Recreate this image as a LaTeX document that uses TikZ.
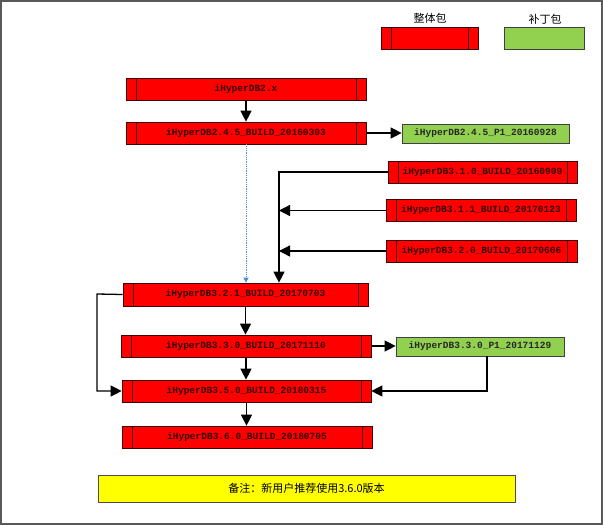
\documentclass[tikz,border=0pt]{standalone}
\usepackage{fontspec}
\setmainfont{Liberation Mono}
\newfontfamily\cjk{Noto Sans CJK SC}
\usetikzlibrary{arrows.meta,calc}
\definecolor{pkgred}{HTML}{FF0000}
\definecolor{pkggreen}{HTML}{92D050}
\definecolor{notey}{HTML}{FFFF00}
\definecolor{dotblue}{HTML}{4A8FD0}
\tikzset{
  x=1pt,y=-1pt,
  proc/.style={draw=black!75!red, line width=0.7pt, fill=pkgred, minimum height=22pt, inner sep=0pt,
    font=\bfseries\fontsize{9.5}{10}\selectfont, text=black!80!red,
    path picture={
      \draw[black!75!red, line width=0.7pt]
        ([xshift=10pt]path picture bounding box.north west) -- ([xshift=10pt]path picture bounding box.south west)
        ([xshift=-10pt]path picture bounding box.north east) -- ([xshift=-10pt]path picture bounding box.south east);
    }},
  patch/.style={draw=black!75, line width=0.7pt, fill=pkggreen, minimum height=19pt, inner sep=0pt,
    font=\bfseries\fontsize{9.5}{10}\selectfont, text=black!85},
  arr/.style={draw=black, line width=1.3pt, -{Triangle[length=11pt,width=11pt]}},
  lbl/.style={font=\cjk\fontsize{11}{12}\selectfont, inner sep=0pt}
}
\begin{document}
\begin{tikzpicture}
\useasboundingbox (0,0) rectangle (603,525);
\draw[black!65, line width=1.5pt] (1,1) rectangle (602,524);

% legend
\node[proc, minimum width=97pt] (legr) at (429.5,38) {};
\node[patch, minimum width=80pt, minimum height=22pt] (legg) at (544.5,38) {};
\node[lbl] (legrt) at (430,18) {整体包};
\node[lbl] (leggt) at (545,19) {补丁包};

% boxes
\node[proc, minimum width=240pt] (b2x) at (246,89) {iHyperDB2.x};
\node[proc, minimum width=240pt] (b245) at (246,133) {iHyperDB2.4.5\_BUILD\_20160303};
\node[patch, minimum width=167pt] (p245) at (485.5,133.5) {iHyperDB2.4.5\_P1\_20160928};
\node[proc, minimum width=189pt] (b310) at (482.5,172) {iHyperDB3.1.0\_BUILD\_20160909};
\node[proc, minimum width=190pt] (b311) at (481,210.5) {iHyperDB3.1.1\_BUILD\_20170123};
\node[proc, minimum width=191pt] (b320) at (481.5,251) {iHyperDB3.2.0\_BUILD\_20170606};
\node[proc, minimum width=245pt, minimum height=23pt] (b321) at (245.5,294.5) {iHyperDB3.2.1\_BUILD\_20170703};
\node[proc, minimum width=250pt] (b330) at (246,346) {iHyperDB3.3.0\_BUILD\_20171110};
\node[patch, minimum width=168pt] (p330) at (480,346.5) {iHyperDB3.3.0\_P1\_20171129};
\node[proc, minimum width=249pt] (b350) at (246.5,391) {iHyperDB3.5.0\_BUILD\_20180315};
\node[proc, minimum width=250pt] (b360) at (247,437) {iHyperDB3.6.0\_BUILD\_20180705};

\node[draw=black!70, line width=0.8pt, fill=notey, minimum width=417pt, minimum height=27pt,
      font=\cjk\fontsize{11}{12}\selectfont] (note) at (306.5,488.5) {备注：新用户推荐使用3.6.0版本};

% junction coordinates
\coordinate (J) at (279,172);
\coordinate (L) at (97,294);
\coordinate (R) at (487,391);

% connectors
\draw[arr] (b2x.south) -- (b2x.south |- b245.north);
\draw[arr] (b245.east) -- (b245.east -| p245.west);
\draw[dotblue, line width=0.8pt, densely dotted, -{Triangle[length=5pt,width=5pt]}] (b245.south) -- (b245.south |- b321.north);
\draw[arr] (b310.west) -- (J) -- (J |- b321.north);
\draw[arr] (b311.west) -- (J |- b311.west);
\draw[arr] (b320.west) -- (J |- b320.west);
\draw[arr] (b321.south) -- (b321.south |- b330.north);
\draw[arr] (b330.south) -- (b330.south |- b350.north);
\draw[arr] (b350.south) -- (b350.south |- b360.north);
\draw[arr] (b321.west) -- (L) |- (b350.west);
\draw[arr] (b330.east) -- (b330.east -| p330.west);
\draw[arr] (R |- p330.south) -- (R) -- (b350.east);
\end{tikzpicture}
\end{document}
